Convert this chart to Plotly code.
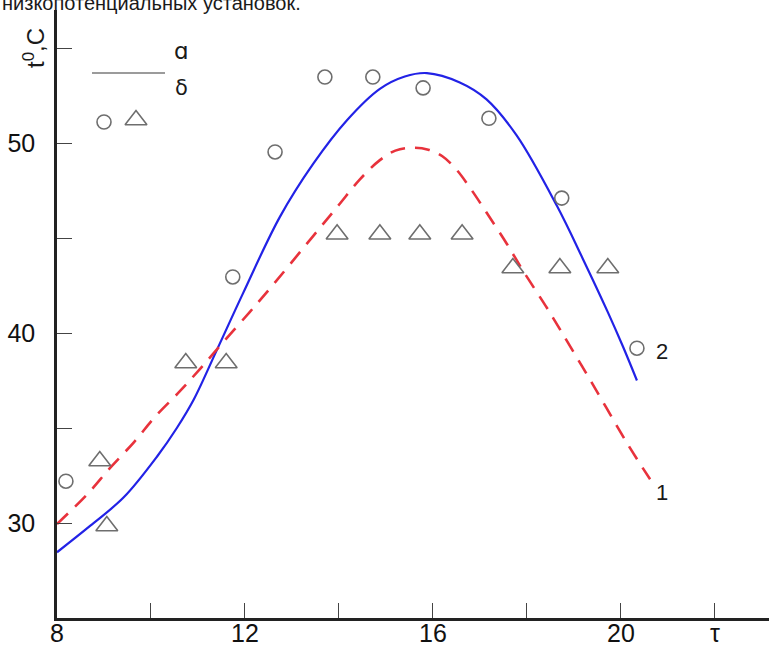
import plotly.graph_objects as go

# Measured points: circles and triangles
circle_x = [8.19, 11.74, 12.64, 13.70, 14.72, 15.79, 17.19, 18.74, 20.34]
circle_y = [32.2, 42.95, 49.53, 53.47, 53.47, 52.9, 51.3, 47.1, 39.2]

triangle_x = [8.91, 9.06, 10.74, 11.6, 13.96, 14.87, 15.72, 16.62, 17.70, 18.70, 19.72]
triangle_y = [33.26, 29.84, 38.42, 38.42, 45.2, 45.2, 45.2, 45.2, 43.42, 43.42, 43.42]

# Curve 2 (solid blue)
curve2_x = [8.0, 8.71, 9.42, 10.13, 10.55, 10.91, 11.4, 11.96, 12.74, 13.45, 14.17, 14.87,
            15.4, 15.87, 16.57, 17.14, 17.78, 18.64, 19.19, 19.72, 20.04, 20.34]
curve2_y = [28.46, 29.86, 31.35, 33.5, 35.0, 36.5, 39.1, 42.1, 46.1, 48.9, 51.2, 52.85,
            53.5, 53.68, 53.19, 52.3, 50.4, 46.68, 43.9, 41.1, 39.3, 37.5]

# Curve 1 (dashed red)
curve1_x = [8.0, 8.64, 9.13, 9.64, 10.09, 10.6, 11.04, 11.53, 12.1, 12.47, 13.45, 14.0,
            14.45, 14.87, 15.2, 15.55, 15.9, 16.2, 16.5, 16.8, 17.15, 17.57, 17.91, 18.43,
            18.7, 19.4, 20.13, 20.62]
curve1_y = [29.95, 31.5, 32.9, 34.26, 35.6, 36.9, 38.1, 39.5, 41.1, 42.16, 45.1, 46.75,
            48.1, 49.1, 49.6, 49.75, 49.65, 49.3, 48.6, 47.6, 46.3, 44.7, 43.3, 41.3,
            40.2, 37.3, 34.2, 32.3]

x_ticks = [8, 10, 12, 14, 16, 18, 20, 22]
x_tick_text = ["8", "", "12", "", "16", "", "20", "τ"]
y_ticks = [30, 35, 40, 45, 50, 55]
y_tick_text = ["30", "", "40", "", "50", ""]

W, H = 769, 646
ML, MR, MT, MB = 57, 0, 10, 28
PW, PH = W - ML - MR, H - MT - MB

GRAY = "#6e6e6e"
FONT = "Liberation Sans, Arial, sans-serif"


def px(xp):
    """Page pixel column -> paper fraction."""
    return (xp - ML) / PW


def py(yp):
    """Page pixel row -> paper fraction."""
    return (H - MB - yp) / PH


fig = go.Figure()

fig.add_trace(go.Scatter(x=curve2_x, y=curve2_y, mode="lines",
                         line=dict(color="#2222e6", width=2.2, shape="spline", smoothing=1.0),
                         hoverinfo="skip"))
fig.add_trace(go.Scatter(x=curve1_x, y=curve1_y, mode="lines",
                         line=dict(color="#e8323c", width=2.6, dash="15px,10px",
                                   shape="spline", smoothing=1.0),
                         hoverinfo="skip"))
fig.add_trace(go.Scatter(x=circle_x, y=circle_y, mode="markers",
                         marker=dict(symbol="circle-open", size=14, color=GRAY,
                                     line=dict(width=1.6, color=GRAY))))
fig.add_trace(go.Scatter(x=triangle_x, y=triangle_y, mode="markers",
                         marker=dict(symbol="triangle-up-open", size=19, color=GRAY,
                                     line=dict(width=1.6, color=GRAY))))

# Key in the upper-left corner, placed on a pixel-scaled overlay axis
key_sym_x = [104, 136]
key_sym_y = [122, 120]
fig.add_trace(go.Scatter(x=key_sym_x[:1], y=key_sym_y[:1], mode="markers",
                         xaxis="x2", yaxis="y2",
                         marker=dict(symbol="circle-open", size=14, color=GRAY,
                                     line=dict(width=1.6, color=GRAY))))
fig.add_trace(go.Scatter(x=key_sym_x[1:], y=key_sym_y[1:], mode="markers",
                         xaxis="x2", yaxis="y2",
                         marker=dict(symbol="triangle-up-open", size=19, color=GRAY,
                                     line=dict(width=1.6, color=GRAY))))
fig.add_trace(go.Scatter(x=[92, 165], y=[73, 73], mode="lines",
                         xaxis="x2", yaxis="y2",
                         line=dict(color="#7a7a7a", width=1.5)))


def label(text, xp, yp, size, family=FONT, xanchor="center", yanchor="middle", **kw):
    return dict(text=text, x=px(xp), y=py(yp), xref="paper", yref="paper",
                xanchor=xanchor, yanchor=yanchor, showarrow=False,
                font=dict(family=family, size=size, color="#1a1a1a"), **kw)


ann = [
    label("ɑ", 181, 51, 23, family="DejaVu Sans"),
    label("δ", 181, 88, 21, family="DejaVu Sans"),
    label("2", 662, 351, 22),
    label("1", 662, 492, 22),
    label("t<sup>0</sup>,C", 34, 48, 24, textangle=-90),
    label("низкопотенциальных установок.", 0, 16, 20, xanchor="left", yanchor="bottom"),
]

fig.update_layout(
    width=W, height=H,
    margin=dict(l=ML, r=MR, t=MT, b=MB),
    paper_bgcolor="white", plot_bgcolor="white",
    showlegend=False,
    annotations=ann,
    xaxis=dict(range=[8, 23.15], tickvals=x_ticks, ticktext=x_tick_text,
               ticks="inside", ticklen=15, tickwidth=1.3, tickcolor="#444",
               showline=True, linecolor="#222", linewidth=2.5, automargin=False,
               showgrid=False, zeroline=False, ticklabelstandoff=-9,
               tickfont=dict(family=FONT, size=25, color="#111")),
    yaxis=dict(range=[25, 57], tickvals=y_ticks, ticktext=y_tick_text,
               ticks="inside", ticklen=15, tickwidth=1.3, tickcolor="#444",
               showline=True, linecolor="#222", linewidth=2.5, automargin=False,
               showgrid=False, zeroline=False, ticklabelstandoff=14,
               tickfont=dict(family=FONT, size=25, color="#111")),
    xaxis2=dict(domain=[0, 1], range=[ML, W], overlaying="x", visible=False,
                automargin=False),
    yaxis2=dict(domain=[0, 1], range=[H - MB, MT], overlaying="y", visible=False,
                automargin=False),
)

fig.write_html("out.html")
